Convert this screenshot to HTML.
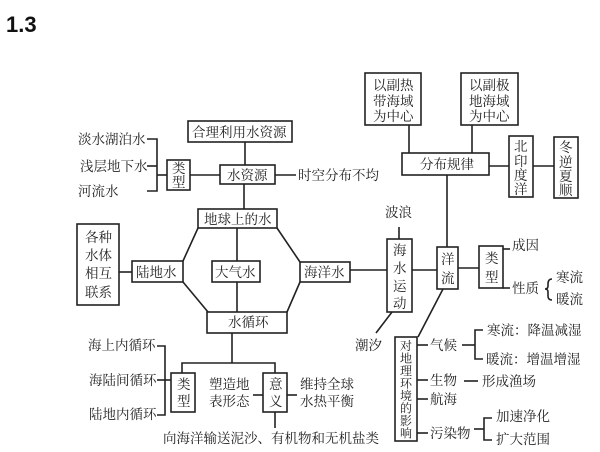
<!DOCTYPE html>
<html><head><meta charset="utf-8"><style>
html,body{margin:0;padding:0;background:#fff;}
svg{display:block}
text{font-family:"Liberation Serif","Noto Serif CJK SC","Noto Sans CJK SC",serif;font-size:13.5px;fill:#222;}
.b{font-family:"Liberation Sans",sans-serif;font-weight:bold;font-size:22px;fill:#111;}
.v text{font-size:12px}
rect{fill:#fff;stroke:#222;stroke-width:1.6}
line,polyline,path{stroke:#222;stroke-width:1.6;fill:none}
</style></head><body>
<svg width="600" height="452" viewBox="0 0 600 452">
<text class="b" x="6" y="32">1.3</text>

<line x1="245" y1="142" x2="245" y2="165"/>
<rect x="188" y="121" width="104" height="21"/>
<text x="192" y="137">合理利用水资源</text>
<line x1="275" y1="175" x2="296" y2="175"/>
<text x="298" y="180">时空分布不均</text>
<line x1="190" y1="175" x2="220" y2="175"/>
<rect x="220" y="165" width="55" height="19"/>
<text x="227" y="180">水资源</text>
<rect x="167" y="160" width="23" height="30"/>
<text x="172" y="173">类</text><text x="172" y="187">型</text>
<polyline points="147,139 157,139 157,191 147,191"/>
<line x1="147" y1="166" x2="157" y2="166"/>
<line x1="157" y1="175" x2="167" y2="175"/>
<text x="78" y="144">淡水湖泊水</text>
<text x="80" y="171">浅层地下水</text>
<text x="78" y="196">河流水</text>
<line x1="244" y1="184" x2="244" y2="209"/>

<polyline points="198,228 183,261"/>
<polyline points="183,282 208,312"/>
<polyline points="277,228 300,262"/>
<polyline points="300,282 287,312"/>
<line x1="237" y1="228" x2="237" y2="312"/>
<rect x="198" y="209" width="79" height="19"/>
<text x="204" y="224">地球上的水</text>
<rect x="132" y="261" width="51" height="21"/>
<text x="136" y="277">陆地水</text>
<rect x="212" y="261" width="48" height="21"/>
<text x="215" y="277">大气水</text>
<rect x="300" y="262" width="50" height="20"/>
<text x="304" y="277">海洋水</text>
<rect x="207" y="312" width="80" height="21"/>
<text x="228" y="327">水循环</text>
<line x1="119" y1="272" x2="132" y2="272"/>
<rect x="77" y="224" width="42" height="81"/>
<text x="85" y="242">各种</text><text x="85" y="260">水体</text><text x="85" y="278">相互</text><text x="85" y="297">联系</text>

<line x1="232" y1="333" x2="232" y2="363"/>
<polyline points="182,373 182,363 275,363 275,373"/>
<rect x="171" y="373" width="24" height="39"/>
<text x="177" y="389">类</text><text x="177" y="406">型</text>
<rect x="263" y="373" width="24" height="39"/>
<text x="269" y="389">意</text><text x="269" y="406">义</text>
<polyline points="157,346 165,346 165,415 157,415"/>
<line x1="157" y1="380" x2="171" y2="380"/>
<text x="88" y="350">海上内循环</text>
<text x="89" y="385">海陆间循环</text>
<text x="89" y="419">陆地内循环</text>
<text x="209" y="389">塑造地</text><text x="209" y="406">表形态</text>
<line x1="253" y1="395" x2="263" y2="395"/>
<line x1="287" y1="395" x2="297" y2="395"/>
<text x="300" y="389">维持全球</text><text x="300" y="406">水热平衡</text>
<line x1="275" y1="412" x2="275" y2="428"/>
<text x="163" y="443">向海洋输送泥沙、有机物和无机盐类</text>

<line x1="350" y1="270" x2="387" y2="270"/>
<line x1="399" y1="227" x2="399" y2="239"/>
<text x="385" y="217">波浪</text>
<line x1="412" y1="270" x2="437" y2="270"/>
<line x1="392" y1="312" x2="376" y2="333"/>
<text x="355" y="350">潮汐</text>
<line x1="443" y1="289" x2="418" y2="337"/>
<rect x="387" y="239" width="25" height="73"/>
<text x="393" y="255">海</text><text x="393" y="273">水</text><text x="393" y="291">运</text><text x="393" y="308">动</text>
<line x1="447" y1="175" x2="447" y2="247"/>
<rect x="437" y="247" width="21" height="42"/>
<text x="441" y="264">洋</text><text x="441" y="283">流</text>
<line x1="458" y1="268" x2="479" y2="268"/>
<rect x="479" y="246" width="24" height="42"/>
<text x="485" y="263">类</text><text x="485" y="282">型</text>
<line x1="503" y1="249" x2="510" y2="249"/>
<line x1="503" y1="288" x2="510" y2="288"/>
<text x="512" y="250">成因</text>
<text x="512" y="293">性质</text>
<path d="M552,279 Q548,279 548,284 L548,286 Q548,289 545,289 Q548,289 548,292 L548,296 Q548,300 552,300"/>
<text x="556" y="282">寒流</text>
<text x="556" y="304">暖流</text>

<line x1="409" y1="125" x2="409" y2="153"/>
<line x1="472" y1="125" x2="472" y2="153"/>
<rect x="365" y="73" width="56" height="52"/>
<text x="373" y="90">以副热</text><text x="373" y="106">带海域</text><text x="373" y="121">为中心</text>
<rect x="461" y="73" width="57" height="52"/>
<text x="469" y="90">以副极</text><text x="469" y="106">地海域</text><text x="469" y="121">为中心</text>
<rect x="402" y="153" width="87" height="22"/>
<text x="420" y="169">分布规律</text>
<line x1="489" y1="166" x2="509" y2="166"/>
<rect x="509" y="136" width="24" height="61"/>
<text x="514" y="151">北</text><text x="514" y="166">印</text><text x="514" y="180">度</text><text x="514" y="194">洋</text>
<line x1="533" y1="166" x2="554" y2="166"/>
<rect x="554" y="137" width="24" height="61"/>
<text x="559" y="152">冬</text><text x="559" y="167">逆</text><text x="559" y="181">夏</text><text x="559" y="195">顺</text>

<rect x="395" y="337" width="22" height="104"/>
<g class="v">
<text x="400" y="350">对</text><text x="400" y="362.5">地</text><text x="400" y="375">理</text><text x="400" y="387.5">环</text><text x="400" y="400">境</text><text x="400" y="412.5">的</text><text x="400" y="425">影</text><text x="400" y="437.5">响</text>
</g>
<line x1="417" y1="345" x2="428" y2="345"/>
<line x1="417" y1="380" x2="428" y2="380"/>
<line x1="417" y1="399" x2="428" y2="399"/>
<line x1="417" y1="433" x2="428" y2="433"/>
<text x="430" y="350">气候</text>
<text x="430" y="385">生物</text>
<text x="430" y="404">航海</text>
<text x="430" y="438">污染物</text>
<line x1="462" y1="345" x2="475" y2="345"/>
<polyline points="483,330 475,330 475,359 483,359"/>
<text x="487" y="335">寒流：降温减湿</text>
<text x="486" y="364">暖流：增温增湿</text>
<line x1="464" y1="381" x2="478" y2="381"/>
<text x="482" y="386">形成渔场</text>
<line x1="474" y1="429" x2="484" y2="429"/>
<polyline points="492,418 484,418 484,440 492,440"/>
<text x="496" y="421">加速净化</text>
<text x="496" y="444">扩大范围</text>
</svg>
</body></html>
